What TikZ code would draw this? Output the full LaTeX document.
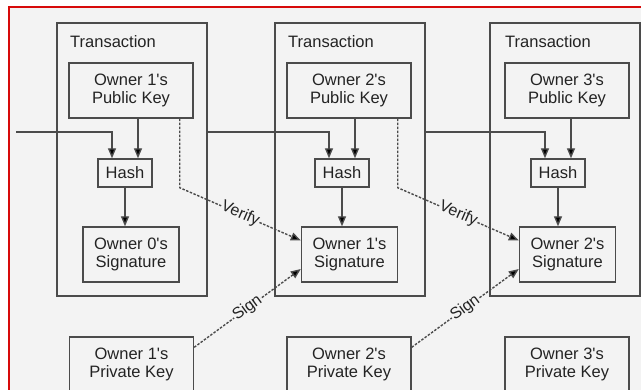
\documentclass[tikz,border=0pt]{standalone}
\usepackage{fontspec}
\setmainfont{Liberation Sans}[Ligatures=TeXOff]
\usetikzlibrary{arrows.meta}
\definecolor{bgc}{RGB}{243,243,243}
\definecolor{linec}{RGB}{75,75,75}
\definecolor{txtc}{RGB}{35,35,35}
\definecolor{framec}{RGB}{215,10,10}
\tikzset{
  tbox/.style={draw=linec, line width=1.4pt, fill=bgc, minimum width=150pt, minimum height=273pt, inner sep=0pt},
  ibox/.style={draw=linec, line width=1.4pt, fill=bgc, minimum width=124pt, minimum height=55pt, inner sep=0pt, align=center, text=txtc, font=\fontsize{16.5}{18.5}\selectfont},
  hbox/.style={draw=linec, line width=1.4pt, fill=bgc, minimum width=54pt, minimum height=28pt, inner sep=0pt, text=txtc, font=\fontsize{16.5}{18.5}\selectfont},
  sbox/.style={ibox, minimum width=96pt},
  ttl/.style={anchor=base west, inner sep=0pt, text=txtc, font=\fontsize{16.5}{18.5}\selectfont},
  arr/.style={draw=linec, line width=1.4pt, -{Triangle[length=10pt,width=8pt,fill=black]}},
  dsh/.style={dash pattern=on 2.5pt off 1.5pt, line width=1.4pt},
  lbl/.style={fill=bgc, inner sep=0.5pt, text=txtc, font=\fontsize{16}{18}\selectfont},
}
\begin{document}
\begin{tikzpicture}[x=1pt,y=-1pt]
\clip (0,0) rectangle (641,390);
\fill[white] (0,0) rectangle (641,390);
\fill[bgc] (9,7) rectangle (641,390);
\draw[framec, line width=2pt] (9,392) -- (9,7) -- (643,7);

% transactions
\node[tbox] (t1) at (132,159.5) {};
\node[tbox] (t2) at (350,159.5) {};
\node[tbox] (t3) at (565,159.5) {};
\node[ttl] (tt1) at (70,48) {Transaction};
\node[ttl] (tt2) at (288,48) {Transaction};
\node[ttl] (tt3) at (505,48) {Transaction};

% public keys
\node[ibox] (pk1) at (131,90.5) {Owner 1's\\Public Key};
\node[ibox] (pk2) at (349,90.5) {Owner 2's\\Public Key};
\node[ibox] (pk3) at (567,90.5) {Owner 3's\\Public Key};

% hashes
\node[hbox] (h1) at (125,173) {Hash};
\node[hbox] (h2) at (342,173) {Hash};
\node[hbox] (h3) at (558,173) {Hash};

% signatures
\node[sbox] (s0) at (131,254.5) {Owner 0's\\Signature};
\node[sbox] (s1) at (349.5,254.5) {Owner 1's\\Signature};
\node[sbox] (s2) at (567.5,254.5) {Owner 2's\\Signature};

% private keys
\node[ibox] (pv1) at (131.5,364.5) {Owner 1's\\Private Key};
\node[ibox] (pv2) at (349,364.5) {Owner 2's\\Private Key};
\node[ibox] (pv3) at (567,364.5) {Owner 3's\\Private Key};

% chain lines
\coordinate (in) at (16,132);
\draw[arr] (in) -| ([xshift=-13pt]h1.north);
\draw[arr] (t1.east |- in) -| ([xshift=-13pt]h2.north);
\draw[arr] (t2.east |- in) -| ([xshift=-13pt]h3.north);

% public key to hash
\draw[arr] ([xshift=13pt]h1.north |- pk1.south) -- ([xshift=13pt]h1.north);
\draw[arr] ([xshift=13pt]h2.north |- pk2.south) -- ([xshift=13pt]h2.north);
\draw[arr] ([xshift=13pt]h3.north |- pk3.south) -- ([xshift=13pt]h3.north);

% hash to signature
\draw[arr] (h1.south) -- (h1.south |- s0.north);
\draw[arr] (h2.south) -- (h2.south |- s1.north);
\draw[arr] (h3.south) -- (h3.south |- s2.north);

% verify
\draw[arr,dsh] ([xshift=-14pt]pk1.south east) -- ++(0,69) -- node[lbl,sloped]{Verify} ([yshift=14pt]s1.west);
\draw[arr,dsh] ([xshift=-14pt]pk2.south east) -- ++(0,69) -- node[lbl,sloped]{Verify} ([yshift=14pt]s2.west);

% sign
\draw[arr,dsh] ([yshift=-11pt]pv1.north east) -- node[lbl,sloped]{Sign} ([yshift=-14.5pt]s1.west);
\draw[arr,dsh] ([yshift=-11pt]pv2.north east) -- node[lbl,sloped]{Sign} ([yshift=-14.5pt]s2.west);
\end{tikzpicture}
\end{document}
